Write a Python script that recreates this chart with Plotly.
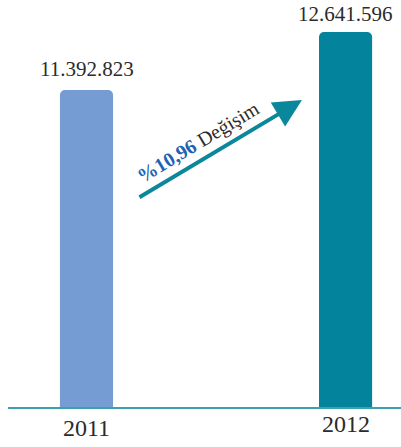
import plotly.graph_objects as go

categories = ["2011", "2012"]
values = [11392823, 12641596]
bar_colors = ["#759DD3", "#03849C"]
change_pct = "%10,96"
change_word = "Değişim"

def fmt(v):
    return f"{v:,}".replace(",", ".")

fig = go.Figure()
fig.add_trace(go.Bar(
    x=categories, y=values, width=0.205,
    marker=dict(color=bar_colors, cornerradius=5, line=dict(width=0)),
    hoverinfo="skip",
))

serif = "Liberation Serif"
# value labels
label_shifts = [8, 5]
for i, (v, s) in enumerate(zip(values, label_shifts)):
    fig.add_annotation(x=i, y=v, text=fmt(v), showarrow=False,
                       yanchor="bottom", yshift=s, borderpad=0,
                       font=dict(family=serif, size=21, color="#2b2b2b"))
# year labels
yshifts = [-21, -17]
for i, (c, ys) in enumerate(zip(categories, yshifts)):
    fig.add_annotation(x=i, y=0, yref="paper", text=c, showarrow=False,
                       yanchor="middle", yshift=ys,
                       font=dict(family=serif, size=24, color="#2b2b2b"))

# arrow
fig.add_annotation(x=0.748, y=0.754, xref="paper", yref="paper",
                   ax=-164, ay=98, showarrow=True, text="",
                   arrowhead=2, arrowsize=1.4, arrowwidth=4,
                   arrowcolor="#0A879A", standoff=0)
fig.add_annotation(x=(198 - 8) / 393, y=(407 - 142) / 407, xref="paper", yref="paper",
                   showarrow=False, textangle=-31,
                   text=f"<b><span style='color:#1F62B4'>{change_pct}</span></b> {change_word}",
                   font=dict(family=serif, size=20, color="#2b2b2b"))

fig.update_layout(
    width=401, height=447,
    margin=dict(l=8, r=0, t=0, b=40),
    paper_bgcolor="white", plot_bgcolor="white",
    showlegend=False,
    xaxis=dict(type="category", range=[-0.303, 1.214], showticklabels=False, showgrid=False,
               zeroline=False, showline=True, linecolor="#3E9FB0", linewidth=1.5),
    yaxis=dict(range=[4567553, 13330553], visible=False, showgrid=False),
)

fig.write_html("out.html", config={"displayModeBar": False},
               post_script="document.body.style.margin='0';")
